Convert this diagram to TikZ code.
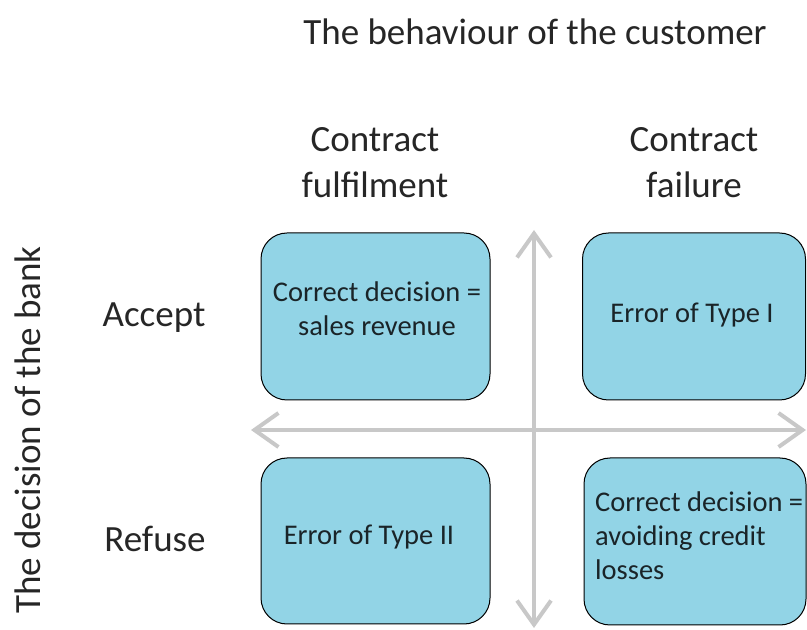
\documentclass[tikz,border=0pt]{standalone}
\usepackage{fontspec}
\setmainfont{Carlito}
\usetikzlibrary{arrows.meta}
\definecolor{cellfill}{RGB}{146,212,230}
\definecolor{axisgrey}{RGB}{200,200,200}
\definecolor{inktext}{RGB}{26,36,40}
\begin{document}
\begin{tikzpicture}[x=1pt,y=1pt,
  cell/.style={draw=black, line width=1pt, fill=cellfill, rounded corners=26pt,
    inner sep=0pt},
  celltext/.style={font=\fontsize{28.5}{34}\selectfont, text=inktext, inner sep=0pt},
  headtext/.style={font=\fontsize{37}{46}\selectfont, text=black!85, inner sep=0pt},
  axis/.style={draw=axisgrey, line width=4pt,
    {Straight Barb[length=24pt,width=34pt]}-{Straight Barb[length=24pt,width=34pt]}}
]
\useasboundingbox (0,0) rectangle (807,630);

% axis endpoints
\coordinate (top) at (534,400);
\coordinate (bottom) at (534,2);
\coordinate (left) at (251,200);
\coordinate (right) at (806,200);

% the four outcome cells
\node[cell, minimum width=229pt, minimum height=167pt] (tl) at (375.5,313.5) {};
\node[cell, minimum width=223pt, minimum height=167pt] (tr) at (694,313.5) {};
\node[cell, minimum width=229pt, minimum height=166pt] (bl) at (375.5,89) {};
\node[cell, minimum width=222pt, minimum height=167pt] (br) at (695,88.5) {};

% crossing axes
\draw[axis] (bottom) -- (top);
\draw[axis] (left) -- (right);

% cell texts (base anchor of a multi-line node sits on its last line)
\node[celltext, anchor=base, align=center] (tltext) at (377,294)
  {Correct decision =\\sales revenue};
\node[celltext, anchor=base] (trtext) at (692,307) {Error of Type I};
\node[celltext, anchor=base] (bltext) at (369,85) {Error of Type II};
\node[celltext, anchor=base west, align=left] (brtext) at (595,50)
  {Correct decision =\\avoiding credit\\losses};

% headings
\node[headtext, anchor=base] (title) at (535,585) {The behaviour of the customer};
\node[headtext, anchor=base, align=center] (colA) at (375,432) {Contract\\fulfilment};
\node[headtext, anchor=base, align=center] (colB) at (694,432) {Contract\\failure};
\node[headtext, anchor=base] (rowA) at (154,303) {Accept};
\node[headtext, anchor=base] (rowB) at (155,78) {Refuse};
\node[headtext, anchor=base, rotate=90] (rowtitle) at (40,200) {The decision of the bank};
\end{tikzpicture}
\end{document}
